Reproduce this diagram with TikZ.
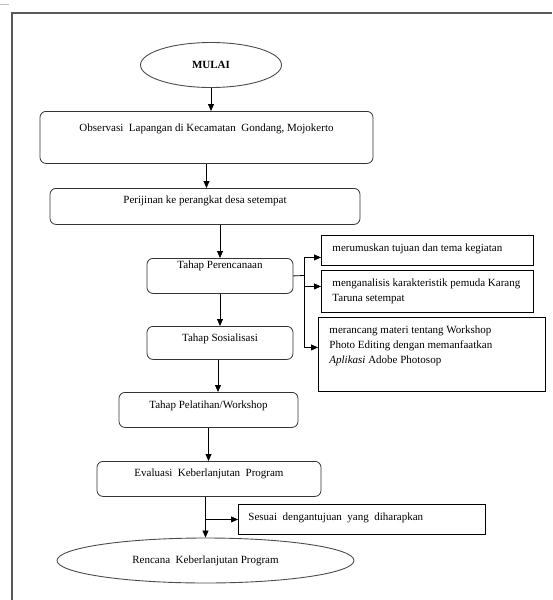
\documentclass[tikz,border=0pt]{standalone}
\usepackage{fontspec}
\setmainfont{Liberation Serif}
\usetikzlibrary{shapes.geometric,arrows.meta}
\begin{document}
\begin{tikzpicture}[x=1pt,y=-1pt,font=\fontsize{11}{15}\selectfont]
        \tikzstyle{ujung}=[ellipse, draw=black!70, line width=0.9pt, inner sep=0pt, minimum height=45pt]
        \tikzstyle{proses}=[draw=black!80, line width=0.8pt, rounded corners=6pt, anchor=north, inner ysep=0pt, align=center]
        \tikzstyle{catatan}=[draw, line width=0.9pt, anchor=north west, inner xsep=11pt, inner ysep=8pt]
        \tikzstyle{panah}=[-{Triangle[length=7pt,width=6pt]}, line width=0.8pt]
        \useasboundingbox (0,0) rectangle (552,600);
        \draw[black!25, line width=0.8pt] (0,4) -- (9,4);
        \draw[black!65, line width=1.2pt] (12,600) -- (12,13) -- (552,13);
        \node[ujung, minimum width=141pt] (mulai) at (211,65) {\textbf{MULAI}};
        \node[proses, minimum width=333pt, text height=20.5pt, text depth=31.5pt] (obs) at (206.5,111) {Observasi\ \ Lapangan di Kecamatan\ \ Gondang, Mojokerto};
        \node[proses, minimum width=310pt, text height=15.5pt, text depth=20.5pt] (izin) at (205,188) {Perijinan ke perangkat desa setempat};
        \node[proses, minimum width=146pt, text height=10.5pt, text depth=24.5pt] (rencana) at (220,258) {Tahap Perencanaan};
        \node[proses, minimum width=146pt, text height=15.5pt, text depth=17.5pt] (sosial) at (220,326) {Tahap Sosialisasi};
        \node[proses, minimum width=179pt, text height=16.5pt, text depth=18.5pt] (latih) at (208.5,392) {Tahap Pelatihan/Workshop};
        \node[proses, minimum width=224pt, text height=15.5pt, text depth=19.5pt] (eval) at (209,461) {Evaluasi\ \ Keberlanjutan\ \ Program};
        \node[ujung, minimum width=297pt] (akhir) at (205.5,560.5) {Rencana\ \ Keberlanjutan Program};
        \node[catatan] (ide1) at (321,235) {\parbox[t][14pt][t]{190pt}{\raggedright merumuskan tujuan dan tema kegiatan}};
        \node[catatan] (ide2) at (321,270) {\parbox[t][26pt][t]{190pt}{\raggedright menganalisis karakteristik pemuda Karang\\ Taruna setempat}};
        \node[catatan] (ide3) at (318,317) {\parbox[t][58pt][t]{205pt}{\raggedright merancang materi tentang Workshop\\ Photo Editing dengan memanfaatkan\\ \textit{Aplikasi} Adobe Photosop}};
        \node[catatan, inner xsep=10pt] (sesuai) at (238,504) {\parbox[t][14pt][t]{227pt}{\raggedright Sesuai\ \ dengantujuan\ \ yang\ \ diharapkan}};
        \coordinate (cab) at (304,275.5);
        \coordinate (t1) at ([yshift=-7pt]ide1.west);
        \coordinate (t2) at ([yshift=5pt]ide2.west);
        \coordinate (t3) at ([yshift=7pt]ide3.west);
        \draw[panah] (mulai.south) -- (mulai.south |- obs.north);
        \draw[panah] (obs.south) -- (obs.south |- izin.north);
        \draw[panah] (rencana.north |- izin.south) -- (rencana.north);
        \draw[panah] (rencana) -- (sosial);
        \draw[panah] ([xshift=-2pt]sosial.south) -- ([xshift=-2pt]sosial.south |- latih.north);
        \draw[panah] (latih.south) -- (latih.south |- eval.north);
        \draw[panah] (akhir.north |- eval.south) -- (akhir.north);
        \draw[line width=0.8pt] (rencana.east) -- (cab);
        \draw[line width=0.8pt] (cab |- t1) -- (cab |- t3);
        \draw[panah] (cab |- t1) -- (t1);
        \draw[panah] (cab |- t2) -- (t2);
        \draw[panah] (cab |- t3) -- (t3);
        \draw[panah] (akhir.north |- sesuai.west) -- (sesuai.west);
\end{tikzpicture}
\end{document}
